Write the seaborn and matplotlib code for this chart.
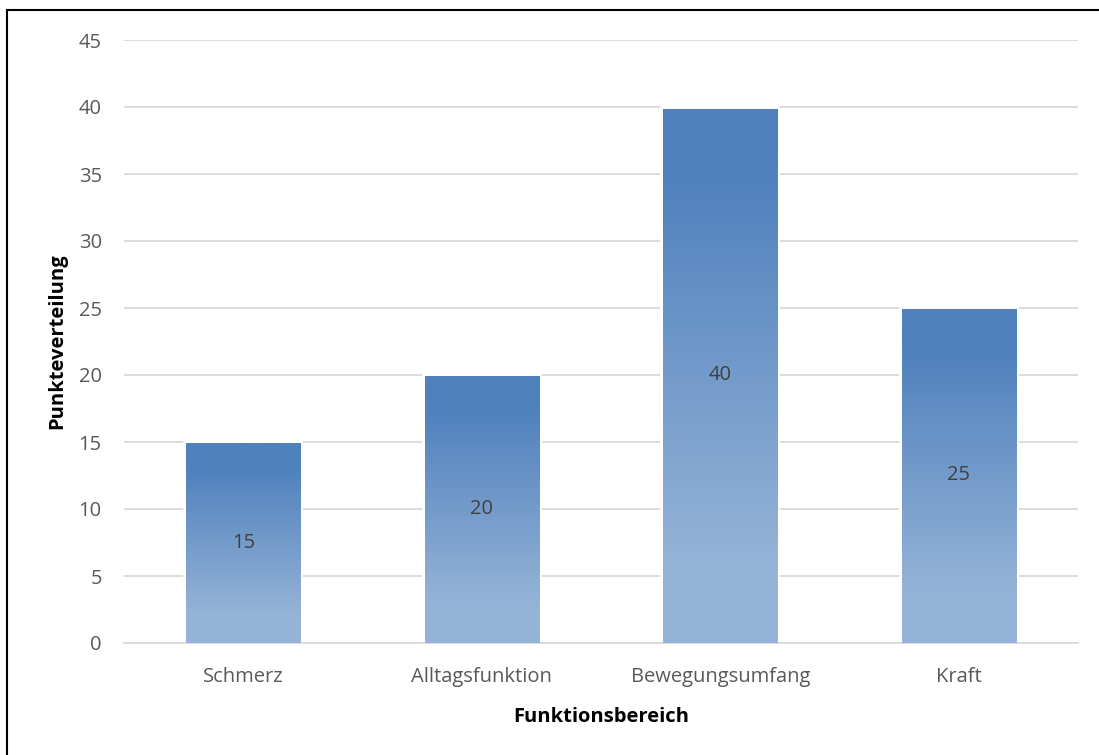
import numpy as np
import pandas as pd
import matplotlib
matplotlib.use("Agg")
import matplotlib.pyplot as plt
import seaborn as sns
from matplotlib.colors import LinearSegmentedColormap
from matplotlib.patches import Rectangle

categories = ["Schmerz", "Alltagsfunktion", "Bewegungsumfang", "Kraft"]
values = [15, 20, 40, 25]
y_ticks = [0, 5, 10, 15, 20, 25, 30, 35, 40, 45]

sns.set_style("white")
plt.rcParams["font.family"] = ["Open Sans", "DejaVu Sans"]

df = pd.DataFrame({"Funktionsbereich": categories, "Punkteverteilung": values})

fig = plt.figure(figsize=(10.99, 7.55), dpi=100)
ax = fig.add_axes([124 / 1099, 1 - 643 / 755, (1078 - 124) / 1099, (643 - 40) / 755])

sns.barplot(data=df, x="Funktionsbereich", y="Punkteverteilung", ax=ax,
            width=0.48, color="#4F81BD", saturation=1)

cmap = LinearSegmentedColormap.from_list(
    "grad", [(0, "#4F81BD"), (0.12, "#4F81BD"), (0.85, "#95B3D7"), (1, "#95B3D7")])
grad = np.linspace(0, 1, 256).reshape(-1, 1)

for p, v in zip(ax.patches, values):
    x0, w = p.get_x(), p.get_width()
    h = p.get_height()
    p.set_facecolor("none")
    p.set_edgecolor("white")
    p.set_linewidth(4)
    p.set_zorder(2)
    ax.imshow(grad, cmap=cmap, aspect="auto", extent=[x0, x0 + w, 0, h * 0.995],
              origin="upper", zorder=3, interpolation="bilinear")
    ax.text(x0 + w / 2, h / 2, str(v), ha="center", va="center",
            fontsize=14.5, color="#404040", zorder=4)

ax.set_xlim(-0.5, len(categories) - 0.5)
ax.set_ylim(0, 45)
ax.set_yticks(y_ticks)
ax.yaxis.grid(True, color="#D9D9D9", linewidth=1.3)
ax.set_axisbelow(True)
for s in ["top", "right", "left"]:
    ax.spines[s].set_visible(False)
ax.spines["bottom"].set_color("#D9D9D9")
ax.spines["bottom"].set_linewidth(1.3)
ax.tick_params(axis="both", length=0, labelsize=14.5, labelcolor="#595959")
ax.tick_params(axis="x", pad=17.5)
ax.tick_params(axis="y", pad=16)
ax.set_xlabel("Funktionsbereich", fontsize=14.5, fontweight="bold", color="black", labelpad=14)
ax.set_ylabel("Punkteverteilung", fontsize=14.5, fontweight="bold", color="black", labelpad=8)

fig.patches.append(Rectangle((7 / 1099, -0.1), 1.2, 1 - 10 / 755 + 0.1,
                             transform=fig.transFigure, fill=False,
                             edgecolor="black", linewidth=1.5, zorder=10))

fig.savefig("out.png", dpi=100)
